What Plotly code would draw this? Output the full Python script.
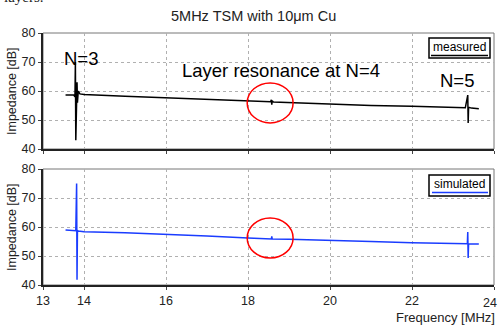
import plotly.graph_objects as go

# ---- data ----
freq_meas = [13.55, 13.75, 13.78, 13.79, 13.80, 13.81, 13.82, 13.83, 13.84, 13.86, 13.9, 14.0,
             15.0, 16.0, 17.0, 18.0, 18.55, 18.57, 18.58, 18.59, 18.62, 19.0, 20.0, 21.0,
             22.0, 23.0, 23.3, 23.36, 23.37, 23.38, 23.45, 23.63]
imp_meas = [58.6, 58.6, 58.0, 70.0, 43.0, 60.0, 55.0, 63.0, 56.0, 60.0, 59.0, 58.8,
            58.2, 57.6, 57.0, 56.5, 56.3, 57.0, 55.3, 56.6, 56.2, 56.0, 55.5, 55.0,
            54.7, 54.3, 54.2, 58.6, 49.0, 54.4, 54.1, 53.9]

freq_sim = [13.55, 13.80, 13.82, 13.83, 13.84, 13.86, 14.0, 15.0, 16.0, 17.0, 18.0,
            18.57, 18.58, 18.59, 19.0, 20.0, 21.0, 22.0, 23.0, 23.35, 23.36, 23.37,
            23.38, 23.63]
imp_sim = [59.0, 58.7, 75.0, 41.8, 58.8, 58.6, 58.4, 58.0, 57.5, 56.9, 56.2,
           55.9, 56.8, 55.9, 55.8, 55.5, 55.0, 54.6, 54.3, 54.2, 58.3, 49.3,
           54.2, 54.1]

x_ticks = [13, 14, 16, 18, 20, 22, 24]
y_ticks = [40, 50, 60, 70, 80]

title = "5MHz TSM with 10μm Cu"

fig = go.Figure()
fig.add_trace(go.Scatter(x=freq_meas, y=imp_meas, mode="lines",
                         line=dict(color="black", width=1.5), xaxis="x", yaxis="y",
                         showlegend=False, hoverinfo="skip"))
fig.add_trace(go.Scatter(x=freq_sim, y=imp_sim, mode="lines",
                         line=dict(color="#1a3cff", width=1.5), xaxis="x2", yaxis="y2",
                         showlegend=False, hoverinfo="skip"))

W, H = 499, 327
ml, mr = 43, 5
mt, mb = 33, 42
pw = W - ml - mr
ph = H - mt - mb
top_dom = [(285 - 149) / ph, 1]
bot_dom = [0, (285 - 169) / ph]

axis_common = dict(range=[13, 24], tickvals=x_ticks, showgrid=True, automargin=False,
                   gridcolor="#b0b0b0", griddash="dot", gridwidth=1,
                   showline=True, linecolor="#222", linewidth=2, mirror=False,
                   zeroline=False, ticks="outside", ticklen=3, tickcolor="#444")
yaxis_common = dict(range=[40, 80], tickvals=y_ticks, showgrid=True, automargin=False,
                    gridcolor="#b0b0b0", griddash="dot", gridwidth=1,
                    showline=True, linecolor="#222", linewidth=2,
                    zeroline=False, ticks="outside", ticklen=3, tickcolor="#444",
                    tickfont=dict(size=12.5, color="#222"))

fig.update_layout(
    width=W, height=H, autosize=False,
    margin=dict(l=ml, r=mr, t=mt, b=mb, pad=0),
    paper_bgcolor="white", plot_bgcolor="white",
    font=dict(family="Liberation Sans, Arial, sans-serif", color="#222"),
    xaxis=dict(**axis_common, domain=[0, 1], anchor="y", showticklabels=False, matches="x2"),
    yaxis=dict(**yaxis_common, domain=top_dom, anchor="x"),
    xaxis2=dict(**axis_common, domain=[0, 1], anchor="y2",
                tickfont=dict(size=12.5, color="#222")),
    yaxis2=dict(**yaxis_common, domain=bot_dom, anchor="x2"),
    hovermode=False,
)

# panel borders (top/right thin gray)
for yd in (top_dom, bot_dom):
    fig.add_shape(type="rect", xref="paper", yref="paper", x0=0, x1=1, y0=yd[0], y1=yd[1],
                  line=dict(color="#777", width=1), fillcolor="rgba(0,0,0,0)", layer="below")

def py(pix):
    return 1 - (pix - mt) / ph

def px(pix):
    return (pix - ml) / pw

ann = []
ann.append(dict(text=title, x=px(253), y=py(16), xref="paper", yref="paper",
                showarrow=False, font=dict(size=14.5, color="#222"), xanchor="center", yanchor="middle"))
ann.append(dict(text="layers.", x=px(2), y=py(-3), xref="paper", yref="paper",
                showarrow=False, font=dict(size=15, family="Liberation Serif, serif", color="#222"),
                xanchor="left", yanchor="middle"))
ann.append(dict(text="N=3", x=px(81), y=py(58), xref="paper", yref="paper",
                showarrow=False, font=dict(size=18.5, color="black"), xanchor="center", yanchor="middle"))
ann.append(dict(text="Layer resonance at N=4", x=px(281), y=py(70), xref="paper", yref="paper",
                showarrow=False, font=dict(size=18.5, color="black"), xanchor="center", yanchor="middle"))
ann.append(dict(text="N=5", x=px(457), y=py(80), xref="paper", yref="paper",
                showarrow=False, font=dict(size=18.5, color="black"), xanchor="center", yanchor="middle"))
ann.append(dict(text="Frequency [MHz]", x=px(497), y=py(317), xref="paper", yref="paper",
                showarrow=False, font=dict(size=13, color="#222"), xanchor="right", yanchor="middle"))
ann.append(dict(text=str(x_ticks[-1]), x=px(499), y=py(303), xref="paper", yref="paper",
                showarrow=False, font=dict(size=12.5, color="#222"), xanchor="right", yanchor="middle"))
for yc in (91, 227):
    ann.append(dict(text="Impedance [dB]", x=px(3), y=py(yc), xref="paper", yref="paper",
                    showarrow=False, textangle=-90, font=dict(size=12.5, color="#222"),
                    xanchor="left", yanchor="middle"))
# legend labels
ann.append(dict(text="measured", x=px(459), y=py(47), xref="paper", yref="paper",
                showarrow=False, font=dict(size=12, color="black"), xanchor="center", yanchor="middle"))
ann.append(dict(text="simulated", x=px(459), y=py(184), xref="paper", yref="paper",
                showarrow=False, font=dict(size=12, color="black"), xanchor="center", yanchor="middle"))
fig.update_layout(annotations=ann)

# legend boxes
fig.add_shape(type="rect", xref="paper", yref="paper", x0=px(429), x1=px(490), y0=py(58), y1=py(38),
              line=dict(color="black", width=1.5), fillcolor="white")
fig.add_shape(type="line", xref="paper", yref="paper", x0=px(431), x1=px(488), y0=py(55.5), y1=py(55.5),
              line=dict(color="black", width=1.5))
fig.add_shape(type="rect", xref="paper", yref="paper", x0=px(429), x1=px(490), y0=py(196), y1=py(175),
              line=dict(color="black", width=1.5), fillcolor="white")
fig.add_shape(type="line", xref="paper", yref="paper", x0=px(432), x1=px(488), y0=py(192.5), y1=py(192.5),
              line=dict(color="#1a3cff", width=1.5))

# red circles around N=4
fig.add_shape(type="circle", xref="x", yref="y", x0=17.98, x1=19.1, y0=49.0, y1=62.8,
              line=dict(color="red", width=1.5))
fig.add_shape(type="circle", xref="x2", yref="y2", x0=17.98, x1=19.1, y0=49.3, y1=63.1,
              line=dict(color="red", width=1.5))

fig.write_html("out.html", config={"displayModeBar": False, "staticPlot": True},
               post_script="document.body.style.margin='0';document.body.style.overflow='hidden';")
